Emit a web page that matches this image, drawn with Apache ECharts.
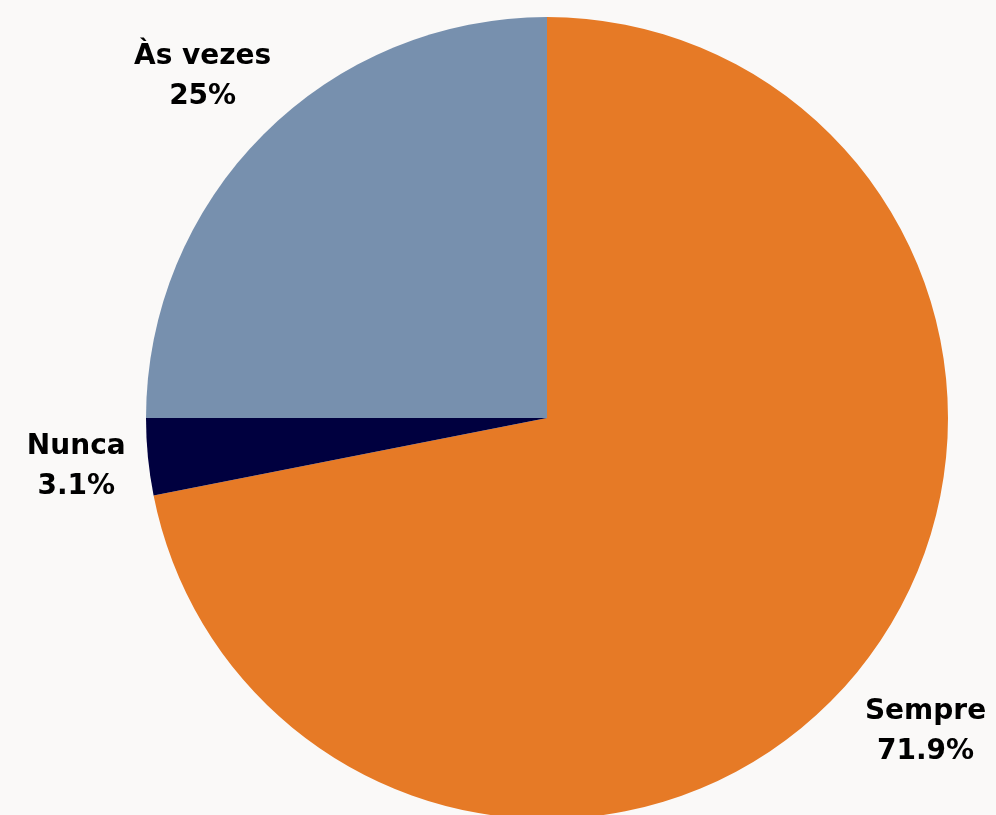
<!DOCTYPE html>
<html><head><meta charset="utf-8">
<script src="https://cdn.jsdelivr.net/npm/echarts@6/dist/echarts.min.js"></script>
<style>html,body{margin:0;padding:0;background:#faf9f8;}#c{width:996px;height:815px;}</style>
</head><body><div id="c"></div>
<script>
const categories = ['Sempre', 'Nunca', 'Às vezes'];
const values = [71.9, 3.1, 25];
const colors = ['#e67a26', '#00003f', '#7790ae'];
const labelLengths = [89, 72, 86];

const chart = echarts.init(document.getElementById('c'));
chart.setOption({
  backgroundColor: '#faf9f8',
  animation: false,
  series: [{
    type: 'pie',
    center: [547, 418],
    radius: 401,
    startAngle: 90,
    clockwise: true,
    avoidLabelOverlap: false,
    data: categories.map((c, i) => ({
      name: c, value: values[i],
      itemStyle: { color: colors[i] },
      labelLine: { length: labelLengths[i] }
    })),
    label: {
      show: true,
      position: 'outside',
      formatter: p => p.name + '\n' + p.value + '%',
      fontFamily: 'DejaVu Sans',
      fontWeight: 'bold',
      fontSize: 28,
      lineHeight: 40,
      color: '#000',
      distanceToLabelLine: 0
    },
    labelLine: { show: false, length2: 0 },
    labelLayout: () => ({ align: 'center', verticalAlign: 'middle', dy: 3 })
  }]
});
</script></body></html>
